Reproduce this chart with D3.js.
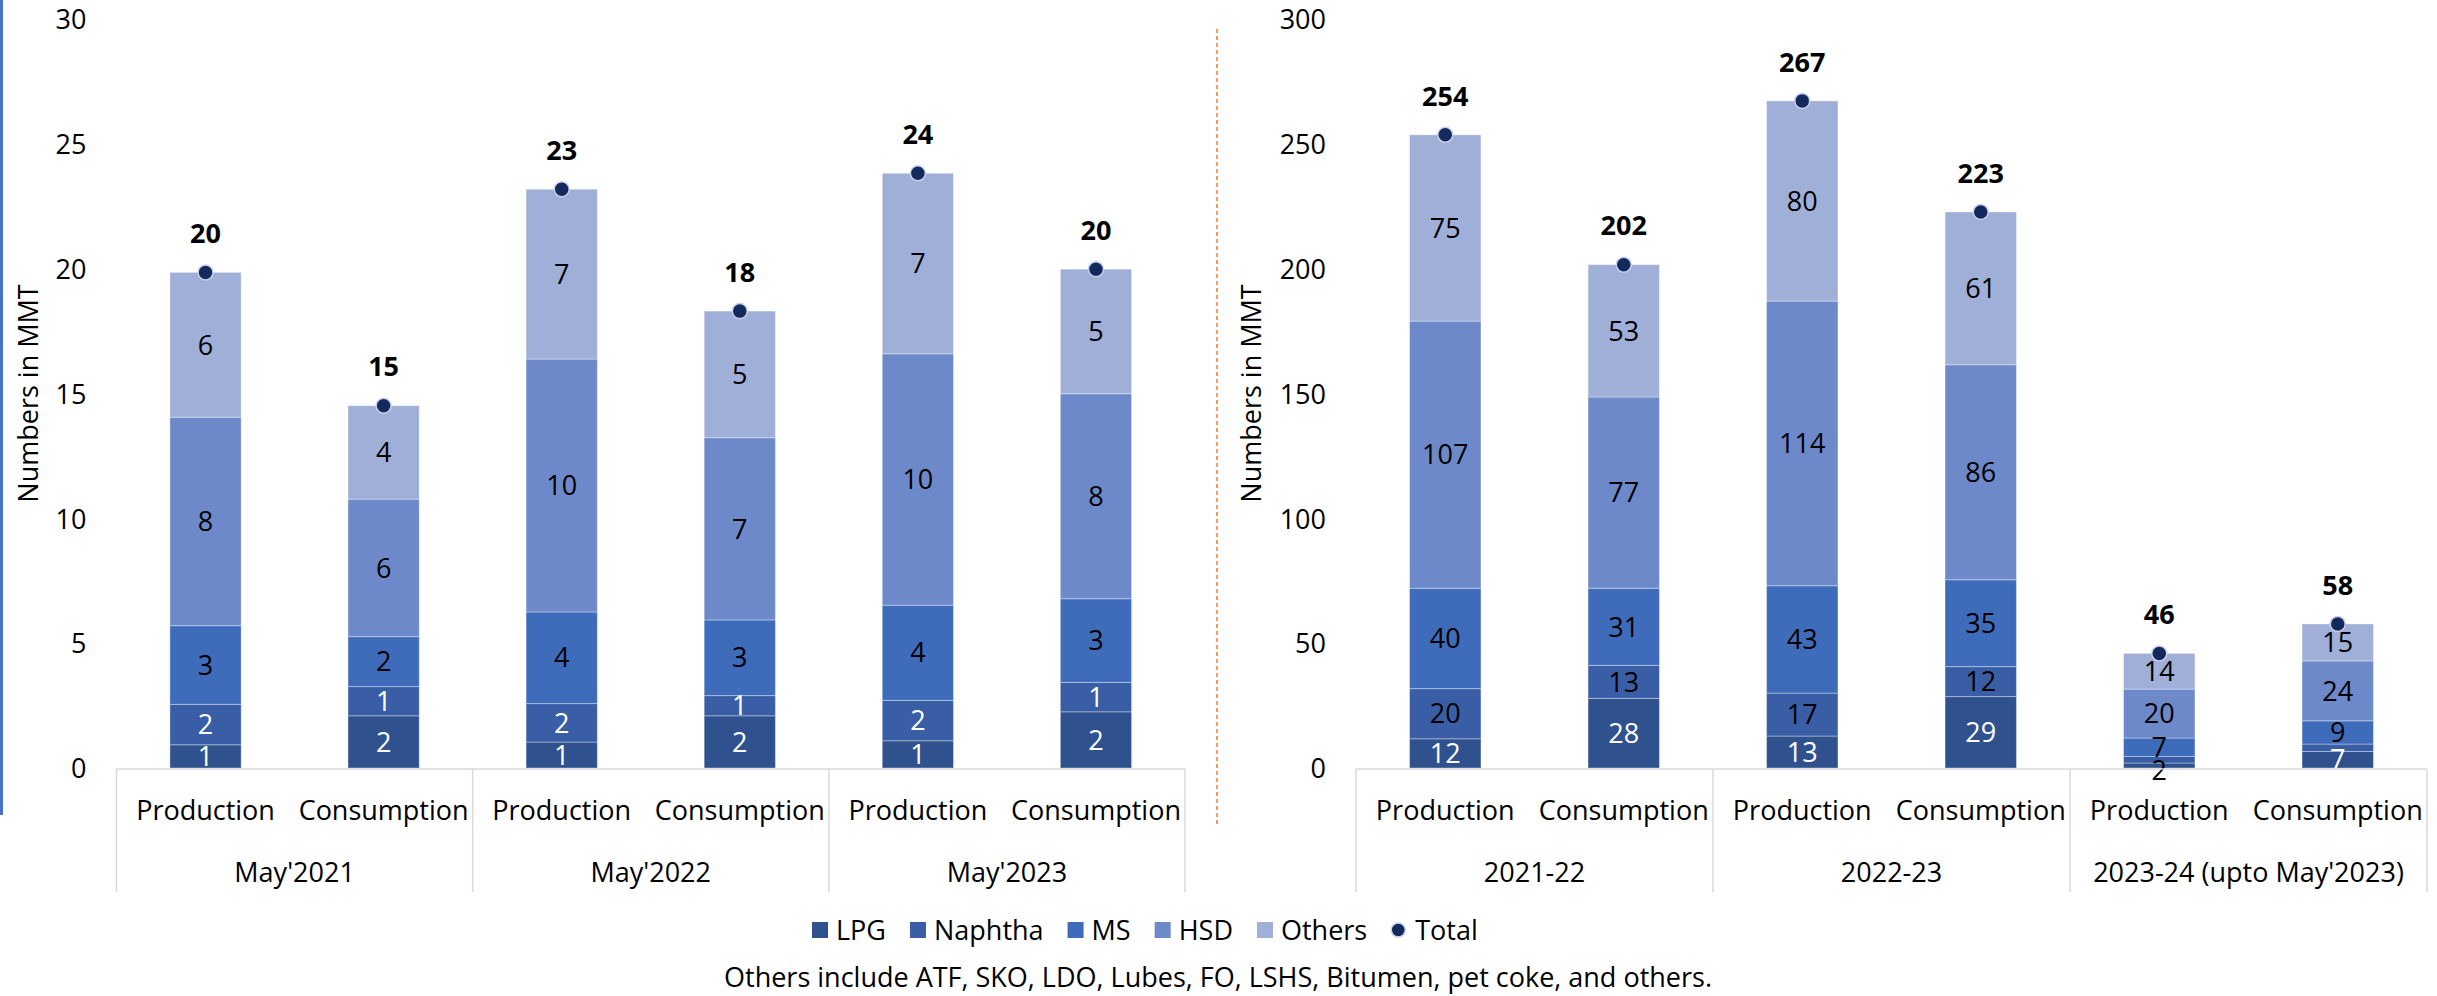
<!DOCTYPE html>
<html>
<head>
<meta charset="utf-8">
<script src="https://cdn.jsdelivr.net/npm/d3@7"></script>
<style>
body { margin: 0; background: #fff; }
svg { display: block; font-family: "Open Sans", sans-serif; }
</style>
</head>
<body>
<svg id="chart"></svg>
<script>
const SERIES = ["LPG", "Naphtha", "MS", "HSD", "Others"];
const SUB_LABELS = ["Production", "Consumption"];
const MONTH_GROUPS = ["May'2021", "May'2022", "May'2023"];
const YEAR_GROUPS = ["2021-22", "2022-23", "2023-24 (upto May'2023)"];

// monthly figures, one value per bar: P, C, P, C, P, C
const MONTH_LPG     = [0.93, 2.09, 1.04, 2.09, 1.09, 2.25];
const MONTH_NAPHTHA = [1.62, 1.17, 1.54, 0.81, 1.62, 1.18];
const MONTH_MS      = [3.15, 2.00, 3.67, 3.03, 3.81, 3.35];
const MONTH_HSD     = [8.35, 5.51, 10.13, 7.30, 10.07, 8.21];
const MONTH_OTHERS  = [5.80, 3.74, 6.80, 5.07, 7.23, 4.99];

// yearly figures
const YEAR_LPG      = [11.7, 27.9, 12.8, 28.6, 2.0, 6.6];
const YEAR_NAPHTHA  = [20.1, 13.2, 17.2, 12.0, 2.6, 3.0];
const YEAR_MS       = [40.2, 30.9, 43.0, 34.8, 7.4, 9.3];
const YEAR_HSD      = [107.0, 76.6, 114.0, 86.1, 19.6, 24.0];
const YEAR_OTHERS   = [74.6, 53.0, 80.2, 61.2, 14.3, 14.8];

const MONTH_TICKS = [0, 5, 10, 15, 20, 25, 30];
const YEAR_TICKS = [0, 50, 100, 150, 200, 250, 300];

const FOOTNOTE = "Others include ATF, SKO, LDO, Lubes, FO, LSHS, Bitumen, pet coke, and others.";

const WIDTH = 2437;
const HEIGHT = 996;
const Y0 = 768;
const Y_TOP = 19;
const FONT = 27;
const COLORS = ["#2F528F", "#395EA6", "#3E6CBB", "#6D89C9", "#A0AFD8"];
const DOT_COLOR = "#14295C";

window.onload = function(){
    let svg = d3.select("#chart")
        .attr("width", WIDTH)
        .attr("height", HEIGHT);

    svg.append("rect")
        .attr("width", WIDTH)
        .attr("height", HEIGHT)
        .attr("fill", "#fff");

    // blue bar on the far left and the dashed split between both charts
    svg.append("line")
        .attr("x1", 1.5).attr("x2", 1.5)
        .attr("y1", 0).attr("y2", 815)
        .attr("stroke", "#4472C4")
        .attr("stroke-width", 3);

    svg.append("line")
        .attr("x1", 1217).attr("x2", 1217)
        .attr("y1", 29).attr("y2", 825)
        .attr("stroke", "#ED7D31")
        .attr("stroke-width", 1.5)
        .attr("stroke-dasharray", "4,3");

    drawPanel(svg, {
        x0: 116.5, x1: 1185, max: 30, ticks: MONTH_TICKS,
        groups: MONTH_GROUPS, titleX: 28,
        values: [MONTH_LPG, MONTH_NAPHTHA, MONTH_MS, MONTH_HSD, MONTH_OTHERS],
        labelColors: ["#fff", "#fff", "#000", "#000", "#000"]
    });

    drawPanel(svg, {
        x0: 1356, x1: 2427, max: 300, ticks: YEAR_TICKS,
        groups: YEAR_GROUPS, titleX: 1251,
        values: [YEAR_LPG, YEAR_NAPHTHA, YEAR_MS, YEAR_HSD, YEAR_OTHERS],
        labelColors: ["#fff", "#000", "#000", "#000", "#000"]
    });

    drawLegend(svg);

    svg.append("text")
        .text(FOOTNOTE)
        .attr("x", 1218)
        .attr("y", 977)
        .attr("dy", "0.36em")
        .attr("font-size", FONT)
        .attr("text-anchor", "middle")
        .attr("fill", "#000");
};

function drawPanel(svg, p){
    let rows = p.values[0].map(function(v, i){
        let r = { idx: i };
        SERIES.forEach(function(s, k){ r[s] = p.values[k][i]; });
        r.total = d3.sum(SERIES, function(s){ return r[s]; });
        return r;
    });

    let stacked = d3.stack().keys(SERIES)(rows);

    let xScale = d3.scaleBand()
        .domain(rows.map(function(d){ return d.idx; }))
        .range([p.x0, p.x1])
        .paddingInner(0.6)
        .paddingOuter(0.3);

    let yScale = d3.scaleLinear()
        .domain([0, p.max])
        .range([Y0, Y_TOP]);

    let g = svg.append("g");

    // value axis, labels only
    let yAxis = g.append("g")
        .attr("transform", "translate(" + p.x0 + ",0)")
        .call(d3.axisLeft(yScale).tickValues(p.ticks).tickSize(0).tickPadding(30));
    yAxis.select(".domain").remove();
    yAxis.attr("font-family", null).attr("font-size", FONT);
    yAxis.selectAll("text").attr("fill", "#000").attr("dy", "0.36em");

    g.append("text")
        .text("Numbers in MMT")
        .attr("transform", "translate(" + p.titleX + "," + ((Y0 + Y_TOP) / 2) + ") rotate(-90)")
        .attr("dy", "0.36em")
        .attr("font-size", FONT)
        .attr("text-anchor", "middle")
        .attr("fill", "#000");

    // stacked segments
    g.selectAll("g.series")
        .data(stacked)
        .enter()
        .append("g")
        .attr("class", "series")
        .attr("fill", function(d, k){ return COLORS[k]; })
        .selectAll("rect")
        .data(function(d){ return d; })
        .enter()
        .append("rect")
        .attr("x", function(d){ return xScale(d.data.idx); })
        .attr("y", function(d){ return yScale(d[1]); })
        .attr("width", xScale.bandwidth())
        .attr("height", function(d){ return yScale(d[0]) - yScale(d[1]); })
        .attr("stroke", "rgba(255,255,255,0.35)")
        .attr("stroke-width", 1);

    // segment labels
    let segs = [];
    stacked.forEach(function(layer, k){
        layer.forEach(function(d){
            segs.push({ k: k, idx: d.data.idx, lo: d[0], hi: d[1], v: d.data[SERIES[k]] });
        });
    });

    g.selectAll("text.seg")
        .data(segs.filter(function(d){
            let h = yScale(d.lo) - yScale(d.hi);
            return h >= 12 || d.k === 0;
        }))
        .enter()
        .append("text")
        .attr("class", "seg")
        .text(function(d){ return Math.round(d.v); })
        .attr("x", function(d){ return xScale(d.idx) + xScale.bandwidth() / 2; })
        .attr("y", function(d){
            let h = yScale(d.lo) - yScale(d.hi);
            if (h < 12) return Y0 + 2;
            return (yScale(d.lo) + yScale(d.hi)) / 2;
        })
        .attr("dy", "0.36em")
        .attr("font-size", FONT)
        .attr("text-anchor", "middle")
        .attr("fill", function(d){
            let h = yScale(d.lo) - yScale(d.hi);
            return h < 12 ? "#000" : p.labelColors[d.k];
        });

    // totals
    g.selectAll("circle")
        .data(rows)
        .enter()
        .append("circle")
        .attr("cx", function(d){ return xScale(d.idx) + xScale.bandwidth() / 2; })
        .attr("cy", function(d){ return yScale(d.total); })
        .attr("r", 7.5)
        .attr("fill", DOT_COLOR)
        .attr("stroke", "#C9D3EE")
        .attr("stroke-width", 1.5);

    g.selectAll("text.tot")
        .data(rows)
        .enter()
        .append("text")
        .attr("class", "tot")
        .text(function(d){ return Math.round(d.total); })
        .attr("x", function(d){ return xScale(d.idx) + xScale.bandwidth() / 2; })
        .attr("y", function(d){ return yScale(d.total) - 39; })
        .attr("dy", "0.36em")
        .attr("font-size", FONT)
        .attr("font-weight", "bold")
        .attr("text-anchor", "middle")
        .attr("fill", "#000");

    // two-level category axis
    g.append("line")
        .attr("x1", p.x0).attr("x2", p.x1)
        .attr("y1", Y0 + 1).attr("y2", Y0 + 1)
        .attr("stroke", "#D9D9D9")
        .attr("stroke-width", 1.5);

    let groupW = (p.x1 - p.x0) / p.groups.length;
    g.selectAll("line.div")
        .data(d3.range(p.groups.length + 1))
        .enter()
        .append("line")
        .attr("class", "div")
        .attr("x1", function(j){ return p.x0 + j * groupW; })
        .attr("x2", function(j){ return p.x0 + j * groupW; })
        .attr("y1", Y0 + 1)
        .attr("y2", 892)
        .attr("stroke", "#D9D9D9")
        .attr("stroke-width", 1.5);

    g.selectAll("text.sub")
        .data(rows)
        .enter()
        .append("text")
        .attr("class", "sub")
        .text(function(d){ return SUB_LABELS[d.idx % 2]; })
        .attr("x", function(d){ return xScale(d.idx) + xScale.bandwidth() / 2; })
        .attr("y", 810)
        .attr("dy", "0.36em")
        .attr("font-size", FONT)
        .attr("text-anchor", "middle")
        .attr("fill", "#000");

    g.selectAll("text.grp")
        .data(p.groups)
        .enter()
        .append("text")
        .attr("class", "grp")
        .text(function(d){ return d; })
        .attr("x", function(d, j){ return p.x0 + (j + 0.5) * groupW; })
        .attr("y", 872)
        .attr("dy", "0.36em")
        .attr("font-size", FONT)
        .attr("text-anchor", "middle")
        .attr("fill", "#000");
}

function drawLegend(svg){
    let items = SERIES.concat(["Total"]);
    let lg = svg.append("g");
    let xPos = 812;
    items.forEach(function(name, k){
        if (k < SERIES.length) {
            lg.append("rect")
                .attr("x", xPos)
                .attr("y", 922)
                .attr("width", 16)
                .attr("height", 16)
                .attr("fill", COLORS[k]);
        } else {
            lg.append("circle")
                .attr("cx", xPos + 7)
                .attr("cy", 930)
                .attr("r", 7)
                .attr("fill", DOT_COLOR)
                .attr("stroke", "#C9D3EE")
                .attr("stroke-width", 1.5);
        }
        let t = lg.append("text")
            .text(name)
            .attr("x", xPos + 24)
            .attr("y", 930)
            .attr("dy", "0.36em")
            .attr("font-size", FONT)
            .attr("fill", "#000");
        xPos += 24 + t.node().getComputedTextLength() + 24;
    });
}
</script>
</body>
</html>
